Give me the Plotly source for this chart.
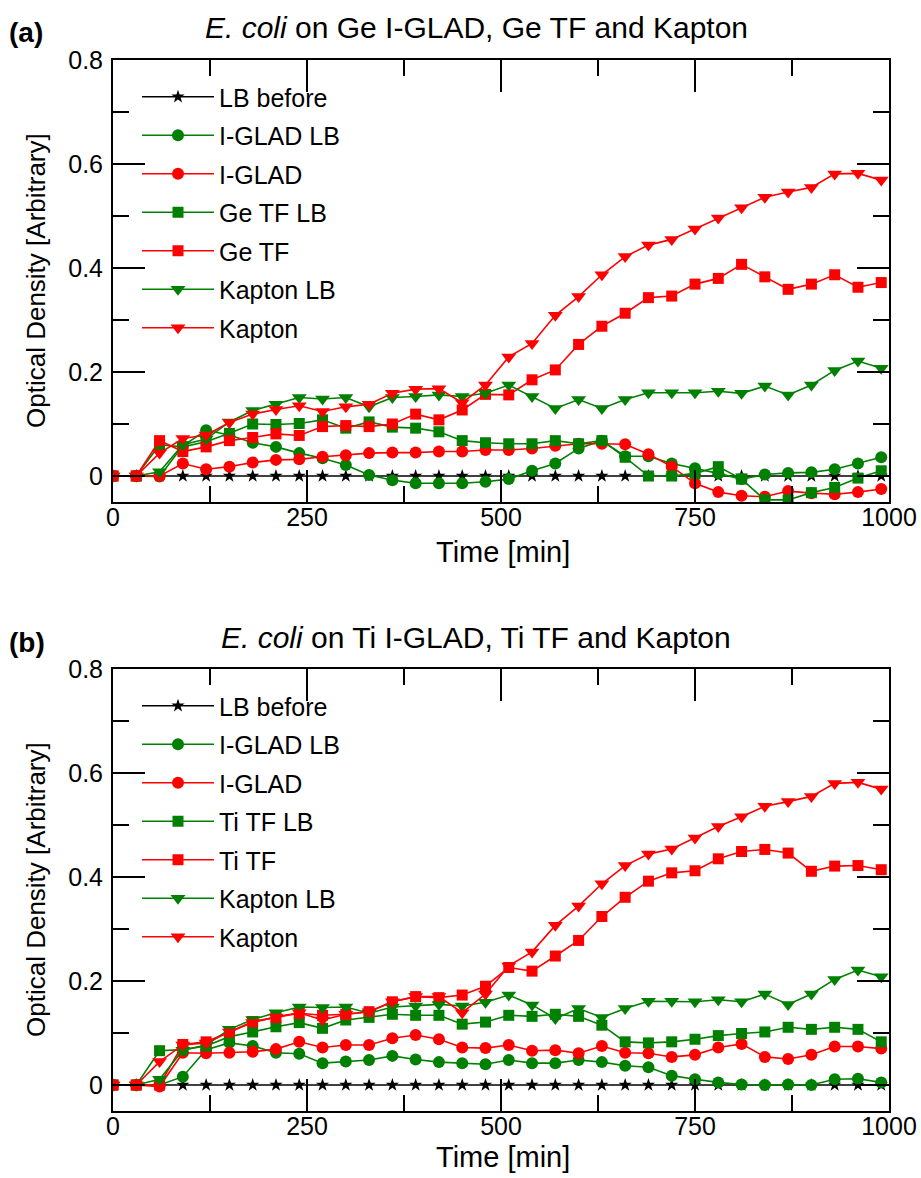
import plotly.graph_objects as go

time_min = list(range(0, 1000, 30))

# ---- Panel (a): Ge ----
a_lb_before = [0.0] * 34
a_iglad_lb = [0, 0, -0.001, 0.058, 0.088, 0.079, 0.064, 0.056, 0.044, 0.034, 0.021, 0.002, -0.008, -0.014, -0.014, -0.014, -0.011, -0.006,
              0.010, 0.024, 0.053, 0.068, 0.038, 0.038, 0.024, 0.015, 0.005, -0.006, 0.003, 0.006, 0.007, 0.013, 0.024, 0.036]
a_iglad = [0, 0, 0.0, 0.024, 0.013, 0.018, 0.026, 0.031, 0.032, 0.037, 0.040, 0.044, 0.045, 0.045, 0.047, 0.047, 0.050, 0.050,
           0.053, 0.058, 0.062, 0.062, 0.061, 0.042, 0.018, -0.014, -0.031, -0.038, -0.040, -0.029, -0.033, -0.035, -0.031, -0.025]
a_tf_lb = [0, 0, 0.060, 0.056, 0.066, 0.082, 0.100, 0.099, 0.101, 0.108, 0.092, 0.104, 0.094, 0.092, 0.085, 0.068, 0.064, 0.062,
           0.062, 0.068, 0.062, 0.068, 0.036, 0.0, 0.0, 0.005, 0.018, -0.006, -0.046, -0.046, -0.032, -0.022, -0.004, 0.010]
a_tf = [0, 0, 0.068, 0.047, 0.056, 0.068, 0.074, 0.081, 0.078, 0.095, 0.097, 0.095, 0.100, 0.119, 0.108, 0.127, 0.157, 0.156,
        0.185, 0.204, 0.253, 0.288, 0.313, 0.343, 0.346, 0.369, 0.380, 0.407, 0.383, 0.359, 0.369, 0.387, 0.363, 0.372]
a_kapton_lb = [0, 0, 0.008, 0.060, 0.071, 0.104, 0.126, 0.138, 0.151, 0.148, 0.151, 0.133, 0.151, 0.153, 0.156, 0.153, 0.159, 0.175,
               0.153, 0.130, 0.147, 0.130, 0.147, 0.160, 0.160, 0.160, 0.163, 0.159, 0.173, 0.156, 0.175, 0.203, 0.221, 0.207]
a_kapton = [0, 0, 0.044, 0.072, 0.079, 0.103, 0.119, 0.128, 0.135, 0.124, 0.133, 0.138, 0.159, 0.167, 0.168, 0.141, 0.175, 0.229,
            0.255, 0.309, 0.345, 0.387, 0.422, 0.444, 0.455, 0.475, 0.496, 0.516, 0.536, 0.546, 0.555, 0.581, 0.582, 0.569]

# ---- Panel (b): Ti ----
b_lb_before = [0.0] * 34
b_iglad_lb = [0, 0, 0, 0.016, 0.068, 0.081, 0.075, 0.062, 0.060, 0.042, 0.045, 0.048, 0.056, 0.049, 0.044, 0.042, 0.040, 0.048,
              0.042, 0.042, 0.048, 0.044, 0.037, 0.034, 0.018, 0.011, 0.005, 0.001, 0, 0.001, 0, 0.011, 0.012, 0.005]
b_iglad = [0, 0, -0.003, 0.062, 0.061, 0.062, 0.064, 0.069, 0.083, 0.072, 0.077, 0.077, 0.090, 0.096, 0.088, 0.072, 0.071, 0.077,
           0.066, 0.067, 0.061, 0.075, 0.062, 0.061, 0.054, 0.058, 0.072, 0.079, 0.054, 0.050, 0.058, 0.074, 0.074, 0.070]
b_tf_lb = [0, 0, 0.066, 0.068, 0.075, 0.093, 0.102, 0.112, 0.120, 0.109, 0.125, 0.130, 0.136, 0.134, 0.134, 0.117, 0.121, 0.134,
           0.132, 0.136, 0.132, 0.115, 0.083, 0.081, 0.083, 0.088, 0.095, 0.099, 0.102, 0.111, 0.107, 0.111, 0.107, 0.083]
b_tf = [0, 0, 0.0, 0.078, 0.083, 0.102, 0.122, 0.130, 0.138, 0.134, 0.136, 0.141, 0.160, 0.170, 0.168, 0.173, 0.190, 0.226,
        0.219, 0.248, 0.278, 0.324, 0.361, 0.392, 0.408, 0.412, 0.435, 0.449, 0.453, 0.446, 0.411, 0.421, 0.422, 0.414]
b_kapton_lb = [0, 0, 0.011, 0.067, 0.077, 0.107, 0.126, 0.139, 0.150, 0.149, 0.150, 0.138, 0.150, 0.152, 0.155, 0.152, 0.159, 0.173,
               0.154, 0.128, 0.147, 0.130, 0.147, 0.161, 0.161, 0.160, 0.164, 0.160, 0.175, 0.155, 0.175, 0.203, 0.221, 0.208]
b_kapton = [0, 0, 0.045, 0.077, 0.081, 0.102, 0.120, 0.131, 0.139, 0.125, 0.136, 0.141, 0.160, 0.170, 0.170, 0.139, 0.175, 0.229,
            0.256, 0.307, 0.344, 0.387, 0.422, 0.444, 0.454, 0.475, 0.497, 0.516, 0.536, 0.545, 0.555, 0.580, 0.582, 0.569]

names_a = ["LB before", "I-GLAD LB", "I-GLAD", "Ge TF LB", "Ge TF", "Kapton LB", "Kapton"]
names_b = ["LB before", "I-GLAD LB", "I-GLAD", "Ti TF LB", "Ti TF", "Kapton LB", "Kapton"]
titles = ["<i>E. coli</i> on Ge I-GLAD, Ge TF and Kapton", "<i>E. coli</i> on Ti I-GLAD, Ti TF and Kapton"]
panel_labels = ["(a)", "(b)"]
x_title = "Time [min]"
y_title = "Optical Density [Arbitrary]"

RED = "#ff0000"
GREEN = "#008000"
BLACK = "#000000"
styles = [
    (BLACK, "star", 10),
    (GREEN, "circle", 12),
    (RED, "circle", 12),
    (GREEN, "square", 11),
    (RED, "square", 11),
    (GREEN, "triangle-down", 13),
    (RED, "triangle-down", 13),
]

FONT = "Liberation Sans, Arial, sans-serif"
W, H = 921, 1178
fig = go.Figure()

series_a = [a_lb_before, a_iglad_lb, a_iglad, a_tf_lb, a_tf, a_kapton_lb, a_kapton]
series_b = [b_lb_before, b_iglad_lb, b_iglad, b_tf_lb, b_tf, b_kapton_lb, b_kapton]

for p, (series, names) in enumerate([(series_a, names_a), (series_b, names_b)]):
    xa = "x" if p == 0 else "x2"
    ya = "y" if p == 0 else "y2"
    lg = "legend" if p == 0 else "legend2"
    for i, (vals, nm) in enumerate(zip(series, names)):
        col, sym, sz = styles[i]
        fig.add_trace(go.Scatter(
            x=time_min, y=vals, name=nm, mode="lines+markers",
            line=dict(color=col, width=1.6),
            marker=dict(symbol=sym, size=sz, color=col, line=dict(width=0)),
            xaxis=xa, yaxis=ya, legend=lg, legendgroup=f"{p}_{i}",
        ))

# page-pixel -> paper coordinates
def px_x(v):
    return v / W

def px_y(v):
    return 1 - v / H

x_dom = [px_x(113), px_x(889)]
dom_a = [px_y(502), px_y(60)]
dom_b = [px_y(1111), px_y(669)]

axis_common = dict(
    showline=True, linecolor="black", linewidth=2, mirror="ticks",
    ticks="inside", tickwidth=2, tickcolor="black",
    showgrid=False, zeroline=False,
    tickfont=dict(family=FONT, size=25, color="black"),
    ticklabeloverflow="allow",
)
xcommon = dict(axis_common, range=[0, 1000], tick0=0, dtick=250, ticklen=32,
               minor=dict(ticks="inside", ticklen=16, dtick=125, tickwidth=2, tickcolor="black", showgrid=False),
               ticklabelstandoff=-8, domain=x_dom)
ycommon = dict(axis_common, range=[-0.05, 0.8], tick0=0, dtick=0.2, ticklen=32,
               minor=dict(ticks="inside", ticklen=16, dtick=0.1, tickwidth=2, tickcolor="black", showgrid=False),
               ticklabelstandoff=3)

legend_common = dict(xanchor="left", yanchor="top", bgcolor="rgba(0,0,0,0)",
                     font=dict(family=FONT, size=25, color="black"),
                     itemwidth=72, tracegroupgap=3, traceorder="grouped")

fig.update_layout(
    width=W, height=H, margin=dict(l=0, r=0, t=0, b=0, autoexpand=False),
    paper_bgcolor="white", plot_bgcolor="white",
    font=dict(family=FONT, color="black"),
    xaxis=dict(xcommon, anchor="y"),
    yaxis=dict(ycommon, domain=dom_a, anchor="x"),
    xaxis2=dict(xcommon, anchor="y2"),
    yaxis2=dict(ycommon, domain=dom_b, anchor="x2"),
    legend=dict(legend_common, x=px_x(137), y=px_y(74)),
    legend2=dict(legend_common, x=px_x(137), y=px_y(683)),
    showlegend=True,
)

for p, (ty, ly, xty, yty) in enumerate([(27, 32, 552, 281), (637, 642, 1157, 890)]):
    fig.add_annotation(text=titles[p], xref="paper", yref="paper", x=px_x(476), y=px_y(ty),
                       xanchor="center", yanchor="middle", showarrow=False,
                       font=dict(family=FONT, size=30, color="black"))
    fig.add_annotation(text=f"<b>{panel_labels[p]}</b>", xref="paper", yref="paper", x=px_x(7), y=px_y(ly),
                       xanchor="left", yanchor="middle", showarrow=False,
                       font=dict(family=FONT, size=28, color="black"))
    fig.add_annotation(text=x_title, xref="paper", yref="paper", x=px_x(503), y=px_y(xty),
                       xanchor="center", yanchor="middle", showarrow=False,
                       font=dict(family=FONT, size=29, color="black"))
    fig.add_annotation(text=y_title, xref="paper", yref="paper", x=px_x(36), y=px_y(yty),
                       xanchor="center", yanchor="middle", showarrow=False, textangle=-90,
                       font=dict(family=FONT, size=26, color="black"))

fig.write_html("out.html", config={"displayModeBar": False},
               post_script="document.body.style.margin='0px';")
